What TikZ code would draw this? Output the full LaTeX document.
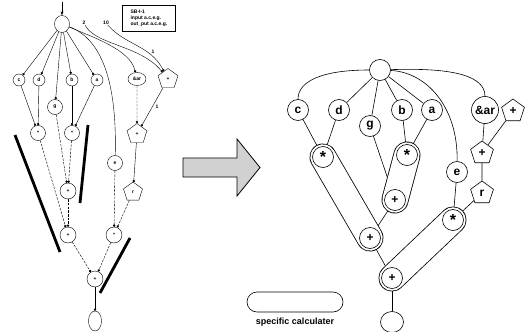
\documentclass[tikz,border=0pt]{standalone}
\usepackage{fontspec}
\setmainfont{Liberation Sans}
\usetikzlibrary{shapes.geometric,arrows.meta}
\pgfdeclarelayer{bg}
\pgfdeclarelayer{mid}
\pgfsetlayers{bg,mid,main}
\newcommand{\bigast}{\raisebox{-3pt}{\fontsize{16}{16}\selectfont *}}
\begin{document}
\begin{tikzpicture}[x=1pt,y=-1pt,
  lc/.style={circle,draw,fill=white,minimum size=15pt,inner sep=0pt,font=\fontsize{5}{5}\selectfont\bfseries},
  lp/.style={regular polygon,regular polygon sides=5,draw,fill=white,minimum size=21pt,inner sep=0pt,font=\fontsize{5}{5}\selectfont\bfseries},
  le/.style={thin,-{Circle[length=2.4pt]}},
  led/.style={le,dash pattern=on 2.5pt off 1.2pt},
  tiny/.style={font=\fontsize{5}{5}\selectfont\bfseries,inner sep=0pt},
  bar/.style={line width=2.8pt},
  rc/.style={circle,draw,semithick,fill=white,minimum size=21pt,inner sep=0pt,font=\fontsize{12}{12}\selectfont\bfseries},
  rp/.style={regular polygon,regular polygon sides=5,draw,semithick,fill=white,minimum size=24pt,inner sep=0pt,font=\fontsize{12}{12}\selectfont\bfseries},
  re/.style={semithick},
  capout/.style={line width=27pt,line cap=round},
  capin/.style={white,line width=25.4pt,line cap=round}]
\useasboundingbox (0,0) rectangle (525,332);

% ---------------- left diagram ----------------
\node[lc,ellipse,minimum width=15pt,minimum height=17pt] (Lt) at (62,24) {};
\coordinate (Lin) at (62,2);
\node[draw,thick,anchor=north west,align=left,inner sep=2pt,minimum width=53pt,minimum height=26pt,font=\fontsize{5}{6}\selectfont\bfseries] (box) at (122,5) {SB-I-1\\input a.c.e.g.\\out\_put a.c.e.g.};
\node[tiny] (l2) at (84,23) {2};
\node[tiny] (l10) at (106,23) {10};
\node[tiny] (l1a) at (153,52) {1};
\node[tiny] (l1b) at (157,107) {1};

\node[lc,minimum size=12pt] (Lc) at (19,80) {c};
\node[lc,minimum size=12pt] (Ld) at (39,80) {d};
\node[lc,minimum size=12pt] (Lb) at (72,80) {b};
\node[lc,minimum size=12pt] (La) at (97,80) {a};
\node[lc,ellipse,minimum width=18pt,minimum height=13pt] (Lar) at (137,79) {\&ar};
\node[lp] (Lp1) at (168,79) {+};
\node[lc] (Lg) at (55,107) {g};
\node[lc] (Lm1) at (38,133) {*};
\node[lc] (Lm2) at (72,133) {*};
\node[lp] (Lp2) at (137,134) {+};
\node[lc] (Le) at (115,163) {e};
\node[lc,minimum size=16pt] (Lq3) at (68,191) {+};
\node[lp,minimum size=20pt] (Lr) at (133,192) {r};
\node[lc,minimum size=16pt] (Lq4) at (68,235) {+};
\node[lc,minimum size=16pt] (Lm3) at (114,235) {*};
\node[lc,minimum size=16pt] (Lq5) at (95,279) {+};
\node[lc,ellipse,minimum width=13pt,minimum height=20pt] (Lbot) at (95,321) {};

\begin{pgfonlayer}{bg}
\draw[-{Stealth[length=4pt]}] (Lin) -- (Lt);
\draw[le] (Lt) -- (Lc);
\draw[le] (Lt) -- (Ld);
\draw[le] (Lt) -- (Lg);
\draw[le] (Lt) -- (Lb);
\draw[le] (Lt) -- (La);
\draw[le] (Lt) .. controls (95,38) and (130,50) .. (Lar);
\draw[thin] (Lt) .. controls (105,40) and (117,90) .. (Le);
\draw[le] (l2) .. controls (95,45) and (140,45) .. (Lp1);
\draw[le] (l10) .. controls (125,45) and (150,45) .. (Lp1);
\draw[le] (Lc) -- (Lm1);
\draw[le] (Ld) -- (Lm1);
\draw[le] (Lb) -- (Lm2);
\draw[le] (La) -- (Lm2);
\draw[led] (Lar) -- (Lp2);
\draw[le] (Lp1) -- (Lp2);
\draw[led] (Lm1) -- (Lq4);
\draw[led] (Lg) -- (Lq3);
\draw[led] (Lm2) -- (Lq3);
\draw[led] (Lq3) -- (Lq4);
\draw[led] (Le) -- (Lm3);
\draw[le] (Lp2) -- (Lr);
\draw[led] (Lr) -- (Lm3);
\draw[led] (Lq4) -- (Lq5);
\draw[led] (Lm3) -- (Lq5);
\draw[le] (Lq5) -- (Lbot);
\end{pgfonlayer}
\draw[bar] (15,135) -- (60,252);
\draw[bar] (88,125) -- (80,203);
\draw[bar] (130,238) -- (100,293);

% ---------------- big arrow ----------------
\draw[fill=black!18,thick] (183,158) -- (237,158) -- (237,139) -- (260,167.5) -- (237,196) -- (237,177) -- (183,177) -- cycle;

% ---------------- right diagram ----------------
\node[rc] (T) at (380,70) {};
\node[rc] (c) at (298,110) {c};
\node[rc] (d) at (339,110) {d};
\node[rc] (g) at (370,126) {g};
\node[rc] (b) at (402,110) {b};
\node[rc] (a) at (432,110) {a};
\node[rc,minimum size=27pt] (ar) at (485,110) {\&ar};
\node[rp] (p1) at (513,111) {+};
\node[rc] (m1) at (323,157) {\bigast};
\node[rc] (m2) at (407,155) {\bigast};
\node[rp] (p2) at (482,153) {+};
\node[rc] (e) at (457,172) {e};
\node[rp] (r) at (482,193) {r};
\node[rc] (qA) at (395,200) {+};
\node[rc] (m3) at (453,220) {\bigast};
\node[rc] (qB) at (370,238) {+};
\node[rc] (qC) at (392,278) {+};
\node[rc,minimum width=23pt,minimum height=21pt,ellipse] (bot) at (392,322) {};

\begin{pgfonlayer}{bg}
\draw[re] (T) .. controls (320,70) and (298,82) .. (c);
\draw[re] (T) -- (d);
\draw[re] (T) -- (g);
\draw[re] (T) -- (b);
\draw[re] (T) -- (a);
\draw[re] (T) .. controls (425,72) and (458,105) .. (e);
\draw[re] (T) .. controls (440,68) and (485,72) .. (ar);
\draw[re] (c) -- (m1);
\draw[re] (d) -- (m1);
\draw[re] (b) -- (m2);
\draw[re] (a) -- (m2);
\draw[re] (g) -- (qA);
\draw[re] (ar) -- (p2);
\draw[re] (p1) -- (p2);
\draw[re] (p2) -- (r);
\draw[re] (e) -- (m3);
\draw[re] (r) -- (m3);
\draw[re] (qA) -- (qB);
\draw[re] (qB) -- (qC);
\draw[re] (qC) -- (bot);
\end{pgfonlayer}
\begin{pgfonlayer}{mid}
\draw[capout] (m1.center) -- (qB.center);
\draw[capin] (m1.center) -- (qB.center);
\draw[capout] (m2.center) -- (qA.center);
\draw[capin] (m2.center) -- (qA.center);
\draw[capout] (m3.center) -- (qC.center);
\draw[capin] (m3.center) -- (qC.center);
\end{pgfonlayer}

% legend
\node[draw,semithick,rounded corners=10pt,minimum width=96pt,minimum height=20pt] (leg) at (295,302) {};
\node[font=\fontsize{9}{9}\selectfont\bfseries] (legt) at (295,322) {specific calculater};
\end{tikzpicture}
\end{document}
